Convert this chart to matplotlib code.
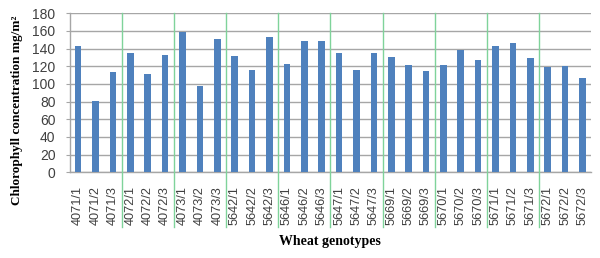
import matplotlib
matplotlib.use("Agg")
import matplotlib.pyplot as plt
import numpy as np

genotypes = ["4071", "4072", "4073", "5642", "5646", "5647", "5669", "5670", "5671", "5672"]
categories = [f"{g}/{i}" for g in genotypes for i in (1, 2, 3)]
values = [143, 81, 113,
          135, 111, 133,
          159, 98, 151,
          132, 116, 153,
          123, 149, 149,
          135, 116, 135,
          131, 121, 115,
          121, 139, 127,
          143, 146, 129,
          119, 120, 107]
yticks = [0, 20, 40, 60, 80, 100, 120, 140, 160, 180]

W, H = 600, 258
fig = plt.figure(figsize=(W / 100, H / 100), dpi=100)
left, right, top, bottom = 69.5, 591.2, 13.3, 172.3
ax = fig.add_axes([left / W, 1 - bottom / H, (right - left) / W, (bottom - top) / H])

x = np.arange(len(categories))
ax.bar(x, values, width=0.38, color="#4f81bd", zorder=3)
ax.set_xlim(-0.5, len(categories) - 0.5)
ax.set_ylim(0, 180)
ax.set_yticks(yticks)
ax.set_xticks(x)
ax.set_xticklabels(categories, rotation=90, fontsize=9.2, family="Liberation Sans", color="#404040")
ax.set_yticklabels([str(v) for v in yticks], fontsize=10, family="Liberation Sans", color="#404040")

ax.yaxis.grid(True, color="#a6a6a6", linewidth=1.0, zorder=0)
ax.tick_params(axis="x", length=0, pad=10)
ax.tick_params(axis="y", length=3, color="#a6a6a6", pad=7)
for s in ["top", "right"]:
    ax.spines[s].set_visible(False)
for s in ["left", "bottom"]:
    ax.spines[s].set_color("#a6a6a6")
    ax.spines[s].set_linewidth(1.0)

# green group separators extending below axis
ymin_ax = (bottom - 227) / (bottom - top)
for k in range(1, len(genotypes)):
    ax.axvline(3 * k - 0.5, ymin=ymin_ax, ymax=1, color="#7fd39a", linewidth=1.0,
               clip_on=False, zorder=4)

fig.text(17 / W, 1 - 110 / H, "Chlorophyll concentration mg/m²", rotation=90,
         ha="center", va="center", fontsize=9.5, fontweight="bold", family="Liberation Serif")
fig.text(330 / W, 1 - 241 / H, "Wheat genotypes", ha="center", va="center",
         fontsize=10, fontweight="bold", family="Liberation Serif")

fig.savefig("out.png", dpi=100)
